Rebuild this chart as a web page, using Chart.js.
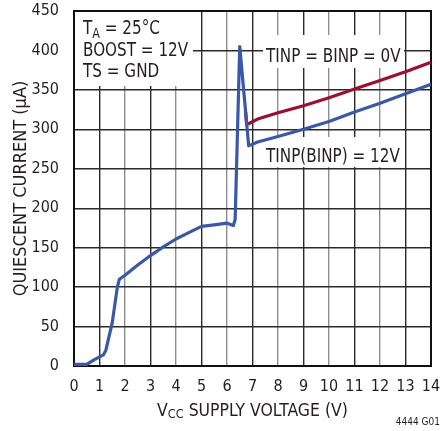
<!DOCTYPE html>
<html>
<head>
<meta charset="utf-8">
<script src="https://cdn.jsdelivr.net/npm/chart.js@4/dist/chart.umd.min.js"></script>
<style>
  html, body { margin: 0; padding: 0; background: #fff; }
  #wrap { width: 442px; height: 431px; }
</style>
</head>
<body>
<div id="wrap"><canvas id="c" width="442" height="431"></canvas></div>
<script>
// values
const vcc12 = [0, 0.5, 0.8, 1.15, 1.25, 1.5, 1.7, 1.78, 2, 2.5, 3, 3.5, 4, 4.5, 5, 5.5, 6, 6.25, 6.32, 6.5, 6.85, 7.2, 8, 9, 10, 11, 12, 13, 14]
const iq12 = [2, 2, 8, 14, 20, 55, 100, 110, 115, 128, 140, 151, 161, 169, 177, 179, 181, 178, 186, 405, 279, 284, 291, 300, 310, 322, 333, 345, 357]
const vcc0 = [6.73, 6.77, 6.9, 7.2, 8, 9, 10, 11, 12, 13, 14]
const iq0 = [322, 306, 308, 313, 321, 330, 340, 351, 362, 373, 385]
const xTicks = [0, 14, 1]
const yTicks = [0, 450, 50]

const FONT = "'Liberation Sans Narrow', 'DejaVu Sans Condensed', sans-serif"
const INK = '#231f20'
Chart.defaults.font.family = FONT
Chart.defaults.color = INK

function pts(xs, ys) {
  return xs.map((x, i) => ({ x: x, y: ys[i] }))
}

// text with subscript parts, squeezed horizontally by k
function subText(ctx, parts, x, y, size, k) {
  ctx.save()
  ctx.translate(x, y)
  ctx.scale(k, 1)
  let cx = 0
  parts.forEach(p => {
    if (p.sub) {
      ctx.font = Math.round(size * 0.72) + 'px ' + FONT
      ctx.fillText(p.t, cx, size * 0.22)
    } else {
      ctx.font = size + 'px ' + FONT
      ctx.fillText(p.t, cx, 0)
    }
    cx += ctx.measureText(p.t).width
  })
  ctx.restore()
  return x + cx * k
}
function subWidth(ctx, parts, size, k) {
  let w = 0
  parts.forEach(p => {
    ctx.font = (p.sub ? Math.round(size * 0.72) : size) + 'px ' + FONT
    w += ctx.measureText(p.t).width
  })
  return w * k
}

const decor = {
  id: 'decor',
  beforeDatasetsDraw(chart) {
    const ctx = chart.ctx
    const a = chart.chartArea
    ctx.save()
    // white label boxes over the grid
    ctx.fillStyle = '#fff'
    ctx.fillRect(a.left, a.top + 1, 119, 74)
    ctx.fillRect(263, 35, 141, 33)
    ctx.fillRect(259, 137, 144, 30)
    // frame
    ctx.strokeStyle = '#111'
    ctx.lineWidth = 2
    ctx.strokeRect(a.left, a.top, a.right - a.left, a.bottom - a.top)
    // texts
    ctx.fillStyle = INK
    ctx.textBaseline = 'alphabetic'
    ctx.textAlign = 'left'
    const k = 0.89
    subText(ctx, [{ t: 'T' }, { t: 'A', sub: true }, { t: ' = 25°C' }], 83, 34, 19, k)
    subText(ctx, [{ t: 'BOOST = 12V' }], 83, 56, 19, k)
    subText(ctx, [{ t: 'TS = GND' }], 83, 77, 19, k)
    subText(ctx, [{ t: 'TINP = BINP = 0V' }], 266, 62, 19, k)
    subText(ctx, [{ t: 'TINP(BINP) = 12V' }], 266, 162, 19, k)
    ctx.restore()
  },
  afterDraw(chart) {
    const ctx = chart.ctx
    const a = chart.chartArea
    ctx.save()
    ctx.fillStyle = INK
    ctx.textBaseline = 'middle'
    ctx.textAlign = 'left'
    // x title
    const xt = [{ t: 'V' }, { t: 'CC', sub: true }, { t: ' SUPPLY VOLTAGE (V)' }]
    const w = subWidth(ctx, xt, 18, 0.97)
    subText(ctx, xt, (a.left + a.right) / 2 - w / 2, 411, 18, 0.97)
    // y title
    ctx.translate(21, (a.top + a.bottom) / 2)
    ctx.rotate(-Math.PI / 2)
    ctx.textAlign = 'center'
    ctx.font = '18px ' + FONT
    ctx.fillText('QUIESCENT CURRENT (µA)', 0, 0)
    ctx.restore()
    ctx.save()
    ctx.fillStyle = INK
    ctx.font = '10px ' + FONT
    ctx.textAlign = 'right'
    ctx.textBaseline = 'middle'
    ctx.fillText('4444 G01', 440, 422)
    ctx.restore()
  }
}

new Chart(document.getElementById('c').getContext('2d'), {
  type: 'scatter',
  data: {
    datasets: [
      {
        label: 'TINP(BINP) = 12V',
        data: pts(vcc12, iq12),
        showLine: true,
        borderColor: '#3a58a8',
        borderWidth: 3.2,
        pointRadius: 0,
        tension: 0,
        borderJoinStyle: 'round',
        borderCapStyle: 'round'
      },
      {
        label: 'TINP = BINP = 0V',
        data: pts(vcc0, iq0),
        showLine: true,
        borderColor: '#9c0f30',
        borderWidth: 3.2,
        pointRadius: 0,
        tension: 0,
        borderJoinStyle: 'round',
        borderCapStyle: 'round'
      }
    ]
  },
  options: {
    responsive: false,
    animation: false,
    layout: { padding: { top: 11, right: 11, left: 0, bottom: 0 } },
    plugins: { legend: { display: false }, tooltip: { enabled: false } },
    scales: {
      x: {
        type: 'linear',
        min: xTicks[0], max: xTicks[1],
        ticks: { stepSize: xTicks[2], font: { size: 16 }, padding: 11, maxRotation: 0, color: INK },
        grid: {
          drawTicks: false,
          lineWidth: 1.4,
          color: c => (c.tick && c.tick.value % 2 === 0) ? '#8e8e8e' : '#2a2a2a'
        },
        border: { display: false },
        afterFit: s => { s.height = 65; s.paddingLeft = 0; s.paddingRight = 0 }
      },
      y: {
        min: yTicks[0], max: yTicks[1],
        ticks: { stepSize: yTicks[2], font: { size: 16 }, padding: 15, color: INK },
        grid: { drawTicks: false, lineWidth: 1.4, color: '#2a2a2a' },
        border: { display: false },
        afterFit: s => { s.width = 74; s.paddingTop = 0; s.paddingBottom = 0 }
      }
    }
  },
  plugins: [decor]
})
</script>
</body>
</html>
